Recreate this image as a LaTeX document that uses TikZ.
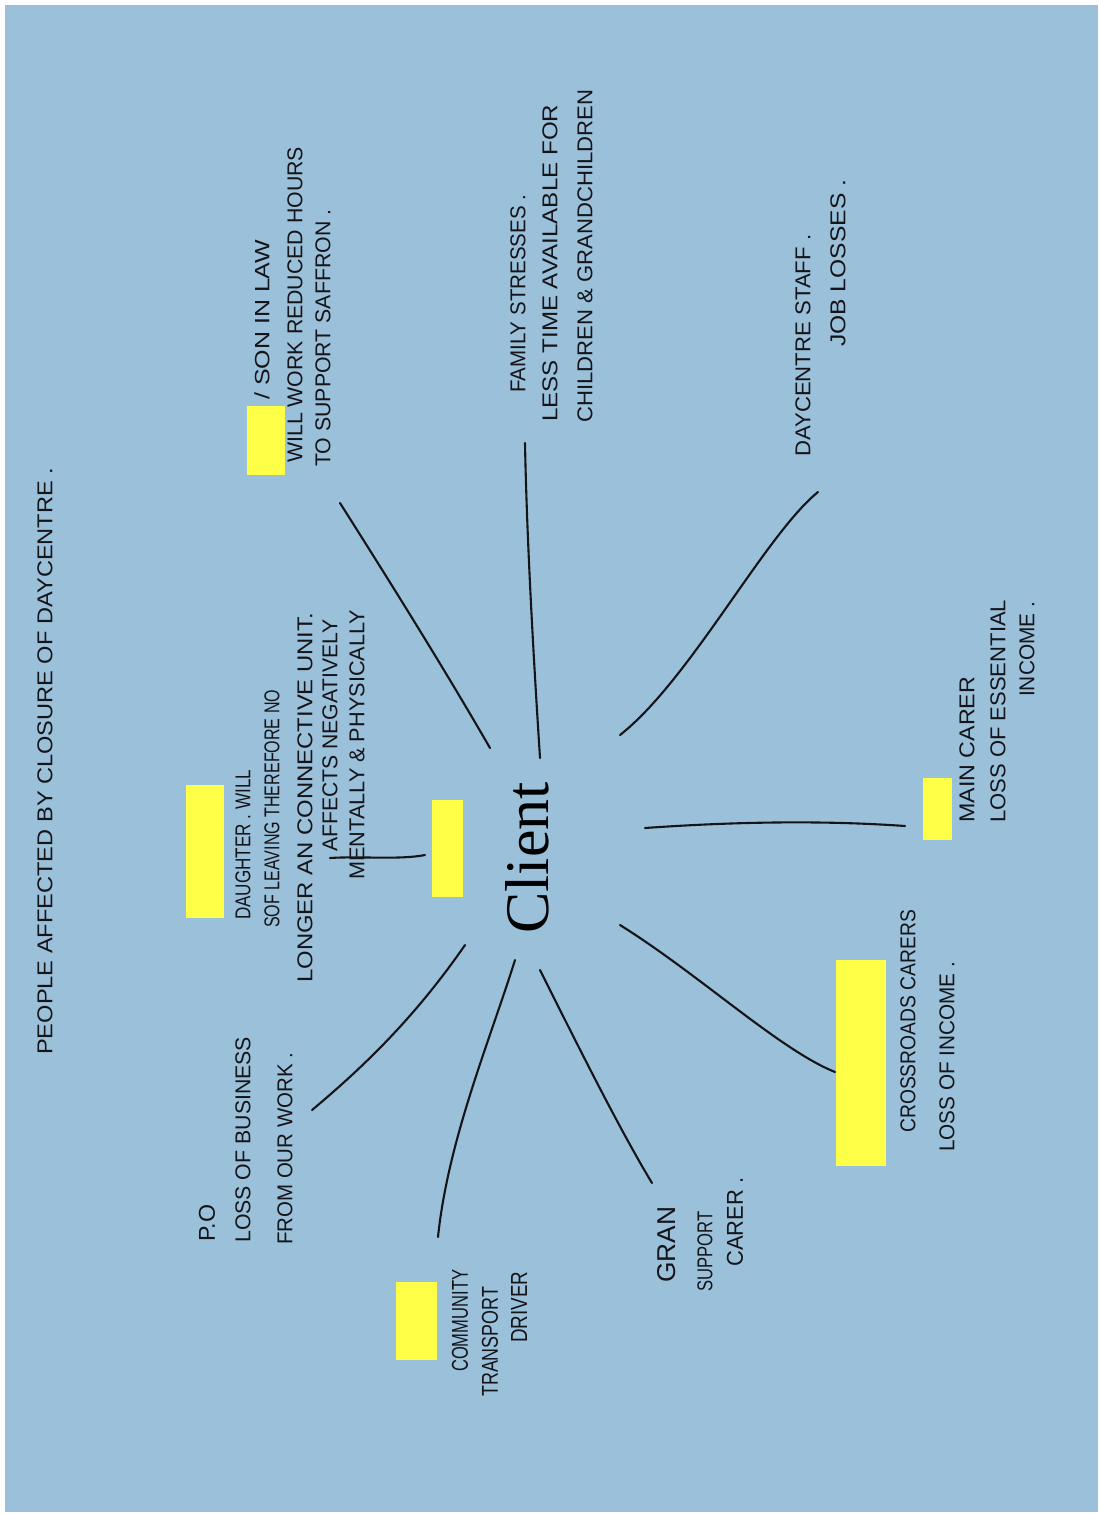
\documentclass[tikz,border=0pt]{standalone}
\usepackage{fontspec}
\setmainfont{Liberation Serif}
\newfontfamily\hwfont{Liberation Sans}
\usepackage{graphicx}
\definecolor{bgblue}{RGB}{154,192,218}
\definecolor{hlyellow}{RGB}{255,255,72}
\definecolor{ink}{RGB}{20,20,25}
\newcommand{\hwt}[3][15pt]{\resizebox{#2}{#1}{\hwfont #3}}
\tikzset{
  hw/.style={rotate=90, anchor=west, inner sep=0pt, text=ink},
  conn/.style={line width=2.1pt, draw=ink, line cap=round},
  redact/.style={fill=hlyellow, draw=none}
}
\begin{document}
\begin{tikzpicture}[x=1pt,y=-1pt]
\useasboundingbox (0,0) rectangle (1100,1515);
\fill[white] (0,0) rectangle (1100,1515);
\fill[bgblue] (5,5) rectangle (1098,1512);

% title
\node[hw] (title) at (45,1055) {\hwt{587pt}{PEOPLE AFFECTED BY CLOSURE OF DAYCENTRE .}};

% centre
\node[rotate=90, inner sep=0pt, text=black, font=\fontsize{62}{62}\selectfont] (client) at (527,858) {Client};

% redaction boxes
\fill[redact] (432,800) rectangle (463,897);
\fill[redact] (186,785) rectangle (224,918);
\fill[redact] (247,406) rectangle (285,475);
\fill[redact] (923,778) rectangle (952,840);
\fill[redact] (836,960) rectangle (886,1166);
\fill[redact] (396,1282) rectangle (437,1360);

% daughter block
\node[hw] (d1) at (243,920) {\hwt{150pt}{DAUGHTER . WILL}};
\node[hw] (d2) at (272,928) {\hwt{238pt}{SOF LEAVING THEREFORE NO}};
\node[hw] (d3) at (305,983) {\hwt{370pt}{LONGER AN CONNECTIVE UNIT.}};
\node[hw] (d4) at (330,852) {\hwt{232pt}{AFFECTS NEGATIVELY}};
\node[hw] (d5) at (357,880) {\hwt{270pt}{MENTALLY \& PHYSICALLY}};

% son in law block
\node[hw] (s1) at (262,400) {\hwt{160pt}{/ SON IN LAW}};
\node[hw] (s2) at (295,463) {\hwt{316pt}{WILL WORK REDUCED HOURS}};
\node[hw] (s3) at (323,467) {\hwt{257pt}{TO SUPPORT SAFFRON .}};

% family block
\node[hw] (f1) at (518,393) {\hwt{198pt}{FAMILY STRESSES .}};
\node[hw] (f2) at (550,422) {\hwt{317pt}{LESS TIME AVAILABLE FOR}};
\node[hw] (f3) at (585,423) {\hwt{333pt}{CHILDREN \& GRANDCHILDREN}};

% daycentre staff
\node[hw] (y1) at (803,457) {\hwt{222pt}{DAYCENTRE STAFF .}};
\node[hw] (y2) at (838,347) {\hwt{167pt}{JOB LOSSES .}};

% main carer
\node[hw] (m1) at (967,823) {\hwt{146pt}{MAIN CARER}};
\node[hw] (m2) at (998,823) {\hwt{223pt}{LOSS OF ESSENTIAL}};
\node[hw] (m3) at (1027,697) {\hwt{95pt}{INCOME .}};

% crossroads
\node[hw] (c1) at (908,1133) {\hwt{223pt}{CROSSROADS CARERS}};
\node[hw] (c2) at (947,1152) {\hwt{190pt}{LOSS OF INCOME .}};

% community transport
\node[hw] (k1) at (460,1372) {\hwt[16pt]{102pt}{COMMUNITY}};
\node[hw] (k2) at (490,1397) {\hwt[16pt]{110pt}{TRANSPORT}};
\node[hw] (k3) at (519,1343) {\hwt[16pt]{71pt}{DRIVER}};

% gran
\node[hw] (g1) at (667,1283) {\hwt[18pt]{76pt}{GRAN}};
\node[hw] (g2) at (705,1292) {\hwt[15pt]{80pt}{SUPPORT}};
\node[hw] (g3) at (735,1267) {\hwt[16pt]{89pt}{CARER .}};

% post office
\node[hw] (p1) at (207,1242) {\hwt[16pt]{37pt}{P.O}};
\node[hw] (p2) at (243,1243) {\hwt{206pt}{LOSS OF BUSINESS}};
\node[hw] (p3) at (285,1245) {\hwt{192pt}{FROM OUR WORK .}};

% connector end points
\coordinate (a1) at (340,503);  \coordinate (b1) at (490,748);
\coordinate (a2) at (525,443);  \coordinate (b2) at (540,758);
\coordinate (a3) at (818,492);  \coordinate (b3) at (620,735);
\coordinate (a4) at (905,826);  \coordinate (b4) at (645,828);
\coordinate (a5) at (835,1072); \coordinate (b5) at (620,925);
\coordinate (a6) at (652,1183); \coordinate (b6) at (540,970);
\coordinate (a7) at (438,1237); \coordinate (b7) at (515,960);
\coordinate (a8) at (312,1110); \coordinate (b8) at (465,945);
\coordinate (a9) at (330,858);  \coordinate (b9) at (425,855);

\draw[conn] (a1) .. controls (392,585) and (445,670) .. (b1);
\draw[conn] (a2) .. controls (527,550) and (535,680) .. (b2);
\draw[conn] (a3) .. controls (765,535) and (690,680) .. (b3);
\draw[conn] (a4) .. controls (820,820) and (730,822) .. (b4);
\draw[conn] (a5) .. controls (780,1050) and (700,975) .. (b5);
\draw[conn] (a6) .. controls (620,1130) and (580,1050) .. (b6);
\draw[conn] (a7) .. controls (448,1140) and (490,1040) .. (b7);
\draw[conn] (a8) .. controls (372,1060) and (420,1010) .. (b8);
\draw[conn] (a9) .. controls (360,856) and (400,860) .. (b9);
\end{tikzpicture}
\end{document}
